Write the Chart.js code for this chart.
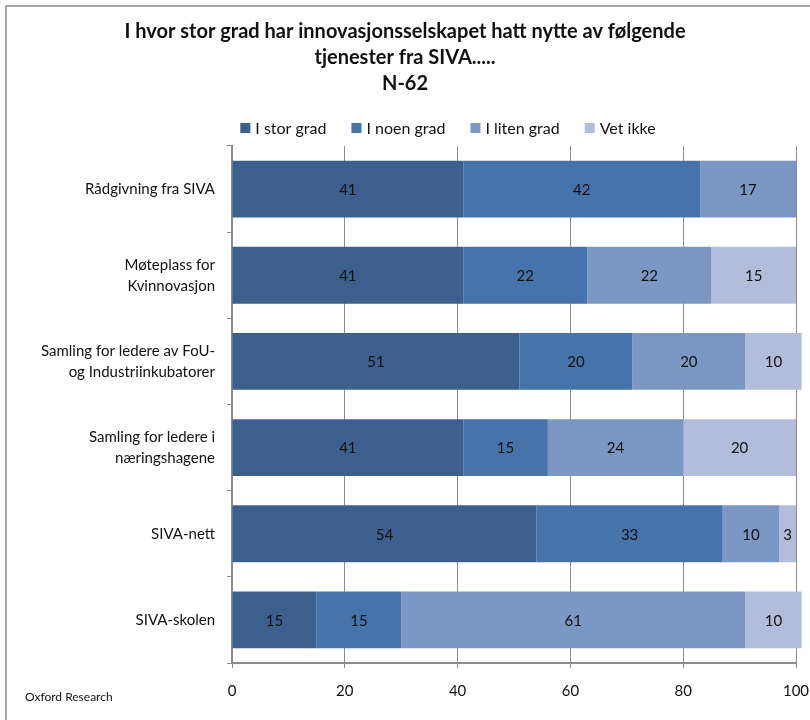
<!DOCTYPE html>
<html lang="no">
<head>
  <meta charset="UTF-8">
  <title>Nytte av tjenester fra SIVA</title>
  <script src="https://cdn.jsdelivr.net/npm/chart.js"></script>
  <style>
    body { margin: 0; background: #fff; }
    #wrap { width: 810px; height: 720px; position: relative; }
  </style>
</head>
<body>
  <div id="wrap"><canvas id="myChart"></canvas></div>

  <script>
    // categories (multi-line labels) and series values
    const categories = [
      ['Rådgivning fra SIVA'],
      ['Møteplass for', 'Kvinnovasjon'],
      ['Samling for ledere av FoU-', 'og Industriinkubatorer'],
      ['Samling for ledere i', 'næringshagene'],
      ['SIVA-nett'],
      ['SIVA-skolen']
    ];
    const seriesNames = ['I stor grad', 'I noen grad', 'I liten grad', 'Vet ikke'];
    const storGrad  = [41, 41, 51, 41, 54, 15];
    const noenGrad  = [42, 22, 20, 15, 33, 15];
    const litenGrad = [17, 22, 20, 24, 10, 61];
    const vetIkke   = [0, 15, 10, 20, 3, 10];
    const xTicks = [0, 20, 40, 60, 80, 100];
    const colors = ['#3c5f8e', '#4673a9', '#7b97c4', '#b2bddb'];

    const FONT = 'Lato, "Open Sans", sans-serif';

    // draws the numbers inside each bar segment
    const segmentLabels = {
      id: 'segmentLabels',
      afterDatasetsDraw(chart) {
        const ctx = chart.ctx;
        ctx.save();
        ctx.font = '15px ' + FONT;
        ctx.fillStyle = '#111';
        ctx.textAlign = 'center';
        ctx.textBaseline = 'middle';
        chart.data.datasets.forEach((ds, i) => {
          chart.getDatasetMeta(i).data.forEach((bar, j) => {
            const v = ds.data[j];
            if (!v) return;
            const cx = (bar.x + bar.base) / 2;
            ctx.fillText(String(v), cx, bar.y + 1);
          });
        });
        ctx.restore();
      }
    };

    // legend drawn by hand: the original sits right of the page centre
    const legendRow = {
      id: 'legendRow',
      afterDraw(chart) {
        const ctx = chart.ctx;
        const box = 10, gapText = 5, gapItem = 25, y = 128;
        ctx.save();
        ctx.font = '16px ' + FONT;
        ctx.textBaseline = 'middle';
        const widths = chart.data.datasets.map(ds => box + gapText + ctx.measureText(ds.label).width);
        const total = widths.reduce((a, b) => a + b, 0) + gapItem * (widths.length - 1);
        let x = 448 - total / 2;
        chart.data.datasets.forEach((ds, i) => {
          ctx.fillStyle = ds.backgroundColor;
          ctx.fillRect(x, y - box / 2, box, box);
          ctx.fillStyle = '#111';
          ctx.fillText(ds.label, x + box + gapText, y + 1);
          x += widths[i] + gapItem;
        });
        ctx.restore();
      }
    };

    // outer frame plus the "Oxford Research" note
    const frame = {
      id: 'frame',
      beforeDraw(chart) {
        const ctx = chart.ctx;
        ctx.save();
        ctx.fillStyle = '#fff';
        ctx.fillRect(0, 0, chart.width, chart.height);
        ctx.strokeStyle = '#a6a6a6';
        ctx.lineWidth = 2;
        ctx.beginPath();
        ctx.moveTo(6, chart.height + 5);
        ctx.lineTo(6, 6);
        ctx.lineTo(chart.width + 5, 6);
        ctx.stroke();
        ctx.restore();
      },
      afterDraw(chart) {
        const ctx = chart.ctx;
        ctx.save();
        ctx.font = '12px ' + FONT;
        ctx.fillStyle = '#111';
        ctx.textBaseline = 'middle';
        ctx.fillText('Oxford Research', 25, 697);
        ctx.restore();
      }
    };

    const datasets = [storGrad, noenGrad, litenGrad, vetIkke].map((d, i) => ({
      label: seriesNames[i],
      data: d,
      backgroundColor: colors[i],
      borderWidth: 0,
      barPercentage: 0.66,
      categoryPercentage: 1,
      clip: false
    }));

    new Chart(document.getElementById('myChart'), {
      type: 'bar',
      data: { labels: categories, datasets: datasets },
      options: {
        indexAxis: 'y',
        responsive: true,
        maintainAspectRatio: false,
        animation: false,
        layout: { padding: { left: 0, right: 0, top: 19, bottom: 6 } },
        plugins: {
          tooltip: { enabled: false },
          legend: { display: false },
          title: {
            display: true,
            text: ['I hvor stor grad har innovasjonsselskapet hatt nytte av følgende', 'tjenester fra SIVA.....', 'N-62'],
            color: '#111',
            font: { family: FONT, size: 20, weight: 'bold', lineHeight: 1.3 },
            padding: { top: 0, bottom: 49 }
          }
        },
        scales: {
          x: {
            stacked: true,
            min: 0,
            max: 100,
            afterBuildTicks(axis) { axis.ticks = xTicks.map(v => ({ value: v })); },
            afterFit(axis) { axis.paddingRight = 14; },
            ticks: { color: '#111', font: { family: FONT, size: 15 }, padding: 14, maxRotation: 0 },
            grid: { color: '#8c8c8c', lineWidth: 1, tickLength: 5, drawTicks: true },
            border: { color: '#8c8c8c', width: 2 }
          },
          y: {
            stacked: true,
            afterFit(axis) { axis.width = 232; },
            ticks: { color: '#111', font: { family: FONT, size: 15, lineHeight: 1.4 }, padding: 12 },
            grid: { drawOnChartArea: false, drawTicks: true, tickLength: 5, color: '#8c8c8c' },
            border: { color: '#8c8c8c', width: 2 }
          }
        }
      },
      plugins: [segmentLabels, legendRow, frame]
    });
  </script>
</body>
</html>
